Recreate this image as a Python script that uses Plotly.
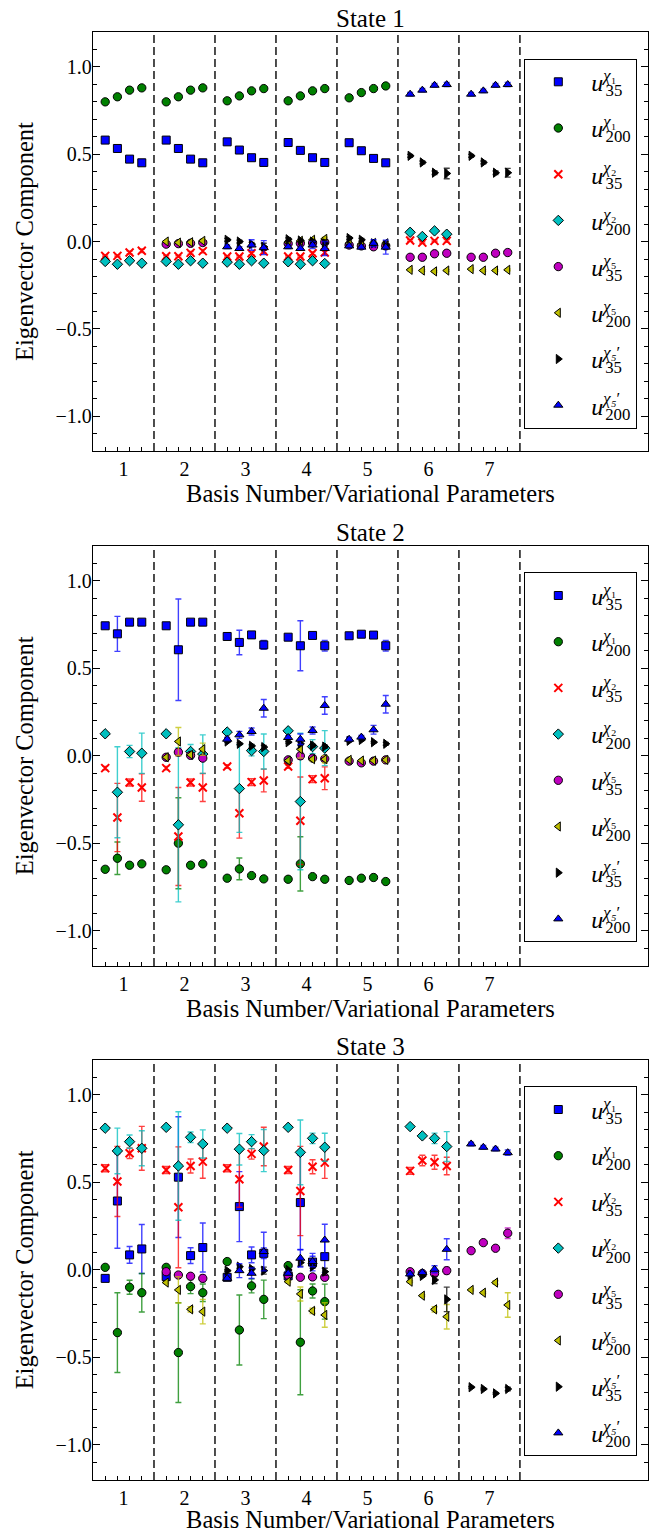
import plotly.graph_objects as go

# ---------------- data ----------------
BASES = [1, 2, 3, 4, 5, 6, 7]
BASIS_TICK_LABELS = ["1", "2", "3", "4", "5", "6", "7"]
N_PARAMS = 4
STATE_TITLES = ["State 1", "State 2", "State 3"]
LABEL_SUPS = ["χ₁", "χ₁", "χ₂", "χ₂", "χ₅", "χ₅", "χ₅′", "χ₅′"]
LABEL_SUBS = ["35", "200", "35", "200", "35", "200", "35", "200"]

# ---- State 1 ----
S1_U35_CHI1 = [[0.581, 0.533, 0.472, 0.451], [0.581, 0.533, 0.472, 0.451], [0.571, 0.524, 0.480, 0.453],
               [0.567, 0.522, 0.480, 0.453], [0.566, 0.520, 0.476, 0.451], None, None]
S1_U35_CHI1_ERR = [[0.008, 0.008, 0.008, 0.010], [0.008, 0.008, 0.008, 0.010], [0.008, 0.008, 0.008, 0.010],
                   [0.008, 0.008, 0.008, 0.010], [0.008, 0.008, 0.008, 0.010], None, None]
S1_U200_CHI1 = [[0.800, 0.829, 0.867, 0.880], [0.800, 0.829, 0.867, 0.880], [0.806, 0.834, 0.863, 0.876],
                [0.806, 0.834, 0.863, 0.876], [0.823, 0.853, 0.876, 0.891], None, None]
S1_U200_CHI1_ERR = [[0.005, 0.005, 0.005, 0.005], [0.005, 0.005, 0.005, 0.005], [0.005, 0.005, 0.005, 0.005],
                    [0.005, 0.005, 0.005, 0.005], [0.005, 0.005, 0.005, 0.005], None, None]
S1_U35_CHI2 = [[-0.082, -0.082, -0.063, -0.053], [-0.084, -0.084, -0.065, -0.055], [-0.086, -0.086, -0.067, -0.057],
               [-0.086, -0.086, -0.067, -0.063], None, [0.006, -0.006, 0.004, 0.004], None]
S1_U35_CHI2_ERR = [[0.005, 0.005, 0.008, 0.010], [0.005, 0.005, 0.008, 0.010], [0.005, 0.005, 0.008, 0.010],
                   [0.005, 0.005, 0.008, 0.012], None, [0.005, 0.005, 0.005, 0.008], None]
S1_U200_CHI2 = [[-0.114, -0.130, -0.110, -0.124], [-0.114, -0.130, -0.110, -0.124], [-0.118, -0.130, -0.110, -0.124],
                [-0.116, -0.130, -0.110, -0.126], None, [0.053, 0.029, 0.061, 0.042], None]
S1_U200_CHI2_ERR = [[0.005, 0.005, 0.005, 0.005], [0.005, 0.005, 0.005, 0.005], [0.005, 0.005, 0.005, 0.005],
                    [0.005, 0.005, 0.005, 0.005], None, [0.005, 0.005, 0.005, 0.005], None]
S1_U35_CHI5 = [None, [-0.015, -0.012, -0.010, -0.006], None, [-0.012, -0.010, -0.008, -0.004],
               [-0.020, -0.025, -0.030, -0.025], [-0.090, -0.090, -0.070, -0.067], [-0.090, -0.090, -0.067, -0.063]]
S1_U35_CHI5_ERR = [None, [0.005, 0.005, 0.005, 0.005], None, [0.005, 0.005, 0.005, 0.005],
                   [0.005, 0.005, 0.008, 0.010], [0.005, 0.005, 0.005, 0.005], [0.005, 0.005, 0.005, 0.005]]
S1_U200_CHI5 = [None, [0.000, -0.006, -0.004, 0.004], None, [-0.004, 0.004, 0.010, 0.015],
                [-0.010, -0.015, -0.008, -0.010], [-0.162, -0.166, -0.171, -0.166], [-0.158, -0.166, -0.166, -0.162]]
S1_U200_CHI5_ERR = [None, [0.005, 0.005, 0.005, 0.008], None, [0.005, 0.005, 0.008, 0.010],
                    [0.005, 0.005, 0.008, 0.010], [0.005, 0.005, 0.005, 0.005], [0.005, 0.005, 0.005, 0.005]]
S1_U35_CHI5P = [None, None, [0.010, 0.000, -0.015, -0.030], [0.013, 0.006, 0.000, -0.010],
                [0.020, 0.010, -0.010, -0.020], [0.491, 0.453, 0.394, 0.390], [0.491, 0.453, 0.394, 0.394]]
S1_U35_CHI5P_ERR = [None, None, [0.008, 0.008, 0.010, 0.020], [0.008, 0.008, 0.010, 0.020],
                    [0.008, 0.008, 0.010, 0.020], [0.008, 0.008, 0.010, 0.030], [0.008, 0.008, 0.010, 0.025]]
S1_U200_CHI5P = [None, None, [-0.030, -0.040, -0.020, -0.035], [-0.030, -0.040, -0.020, -0.040],
                 [-0.025, -0.032, -0.010, -0.032], [0.844, 0.867, 0.895, 0.899], [0.844, 0.863, 0.895, 0.899]]
S1_U200_CHI5P_ERR = [None, None, [0.010, 0.010, 0.030, 0.040], [0.010, 0.010, 0.020, 0.040],
                     [0.010, 0.010, 0.020, 0.040], [0.010, 0.010, 0.010, 0.012], [0.010, 0.010, 0.010, 0.012]]

# ---- State 2 ----
S2_U35_CHI1 = [[0.743, 0.697, 0.764, 0.764], [0.743, 0.606, 0.764, 0.764], [0.682, 0.648, 0.691, 0.634],
               [0.678, 0.629, 0.688, 0.629], [0.686, 0.695, 0.690, 0.629], None, None]
S2_U35_CHI1_ERR = [[0.010, 0.100, 0.010, 0.010], [0.010, 0.290, 0.010, 0.010], [0.010, 0.070, 0.010, 0.025],
                   [0.010, 0.143, 0.010, 0.030], [0.010, 0.010, 0.010, 0.030], None, None]
S2_U200_CHI1 = [[-0.648, -0.585, -0.625, -0.617], [-0.651, -0.499, -0.625, -0.617], [-0.699, -0.646, -0.684, -0.703],
                [-0.705, -0.617, -0.690, -0.705], [-0.712, -0.699, -0.695, -0.718], None, None]
S2_U200_CHI1_ERR = [[0.005, 0.093, 0.005, 0.005], [0.005, 0.260, 0.010, 0.010], [0.005, 0.062, 0.005, 0.005],
                    [0.005, 0.155, 0.005, 0.005], [0.005, 0.005, 0.005, 0.005], None, None]
S2_U35_CHI2 = [[-0.070, -0.352, -0.152, -0.181], [-0.070, -0.461, -0.152, -0.181], [-0.061, -0.328, -0.150, -0.141],
               [-0.061, -0.371, -0.133, -0.128], None, None, None]
S2_U35_CHI2_ERR = [[0.010, 0.195, 0.020, 0.078], [0.010, 0.280, 0.020, 0.080], [0.010, 0.142, 0.020, 0.065],
                   [0.010, 0.250, 0.020, 0.065], None, None, None]
S2_U200_CHI2 = [[0.126, -0.208, 0.025, 0.015], [0.126, -0.394, 0.025, 0.010], [0.136, -0.187, 0.030, 0.025],
                [0.143, -0.261, 0.053, 0.044], None, None, None]
S2_U200_CHI2_ERR = [[0.005, 0.260, 0.035, 0.115], [0.005, 0.440, 0.040, 0.110], [0.005, 0.250, 0.030, 0.100],
                    [0.005, 0.390, 0.040, 0.100], None, None, None]
S2_U35_CHI5 = [None, [-0.008, 0.021, 0.003, -0.013], None, [-0.023, 0.000, -0.013, -0.017],
               [-0.030, -0.040, -0.030, -0.023], None, None]
S2_U35_CHI5_ERR = [None, [0.005, 0.020, 0.010, 0.010], None, [0.005, 0.020, 0.010, 0.010],
                   [0.005, 0.005, 0.005, 0.008], None, None]
S2_U200_CHI5 = [None, [-0.008, 0.082, 0.006, 0.038], None, [-0.027, 0.038, -0.019, -0.019],
                [-0.023, -0.027, -0.027, -0.023], None, None]
S2_U200_CHI5_ERR = [None, [0.005, 0.080, 0.005, 0.035], None, [0.005, 0.050, 0.010, 0.020],
                    [0.005, 0.005, 0.005, 0.012], None, None]
S2_U35_CHI5P = [None, None, [0.082, 0.069, 0.057, 0.050], [0.078, 0.069, 0.059, 0.053],
                [0.086, 0.091, 0.078, 0.069], None, None]
S2_U35_CHI5P_ERR = [None, None, [0.005, 0.005, 0.008, 0.010], [0.005, 0.008, 0.008, 0.010],
                    [0.005, 0.005, 0.005, 0.008], None, None]
S2_U200_CHI5P = [None, None, [0.095, 0.120, 0.139, 0.272], [0.105, 0.095, 0.145, 0.288],
                 [0.095, 0.107, 0.149, 0.295], None, None]
S2_U200_CHI5P_ERR = [None, None, [0.010, 0.020, 0.020, 0.050], [0.010, 0.030, 0.020, 0.050],
                     [0.010, 0.010, 0.025, 0.050], None, None]

# ---- State 3 ----
S3_U35_CHI1 = [[-0.048, 0.394, 0.086, 0.120], [-0.038, 0.530, 0.082, 0.128], [-0.042, 0.362, 0.086, 0.095],
               [-0.034, 0.385, 0.045, 0.076], None, None, None]
S3_U35_CHI1_ERR = [[0.010, 0.270, 0.048, 0.140], [0.010, 0.345, 0.045, 0.140], [0.010, 0.200, 0.045, 0.030],
                   [0.010, 0.270, 0.050, 0.090], None, None, None]
S3_U200_CHI1 = [[0.015, -0.358, -0.099, -0.130], [0.015, -0.472, -0.095, -0.130], [0.048, -0.343, -0.091, -0.168],
                [0.025, -0.413, -0.120, -0.181], None, None, None]
S3_U200_CHI1_ERR = [[0.005, 0.228, 0.040, 0.110], [0.005, 0.285, 0.040, 0.050], [0.005, 0.200, 0.040, 0.110],
                    [0.005, 0.300, 0.040, 0.100], None, None, None]
S3_U35_CHI2 = [[0.581, 0.505, 0.667, 0.695], [0.571, 0.358, 0.594, 0.619], [0.581, 0.518, 0.663, 0.705],
               [0.571, 0.451, 0.590, 0.613], None, [0.566, 0.625, 0.615, 0.594], None]
S3_U35_CHI2_ERR = [[0.020, 0.200, 0.030, 0.125], [0.020, 0.345, 0.040, 0.095], [0.020, 0.160, 0.030, 0.110],
                   [0.020, 0.255, 0.040, 0.090], None, [0.020, 0.030, 0.040, 0.050], None]
S3_U200_CHI2 = [[0.810, 0.680, 0.733, 0.695], [0.815, 0.594, 0.758, 0.720], [0.810, 0.690, 0.733, 0.682],
                [0.815, 0.672, 0.752, 0.701], None, [0.819, 0.766, 0.752, 0.705], None]
S3_U200_CHI2_ERR = [[0.005, 0.130, 0.038, 0.100], [0.005, 0.310, 0.030, 0.080], [0.005, 0.090, 0.040, 0.120],
                    [0.005, 0.185, 0.030, 0.080], None, [0.005, 0.010, 0.030, 0.085], None]
S3_U35_CHI5 = [None, [-0.010, -0.029, -0.036, -0.048], None, [-0.030, -0.042, -0.040, -0.042],
               None, [-0.010, -0.020, -0.020, -0.004], [0.110, 0.156, 0.124, 0.210]]
S3_U35_CHI5_ERR = [None, [0.005, 0.008, 0.008, 0.020], None, [0.005, 0.008, 0.008, 0.015],
                   None, [0.005, 0.008, 0.008, 0.020], [0.005, 0.005, 0.005, 0.030]]
S3_U200_CHI5 = [None, [-0.072, -0.114, -0.225, -0.238], None, [-0.067, -0.137, -0.234, -0.257],
                None, [-0.067, -0.147, -0.225, -0.267], [-0.114, -0.130, -0.072, -0.200]]
S3_U200_CHI5_ERR = [None, [0.005, 0.075, 0.015, 0.070], None, [0.005, 0.040, 0.015, 0.070],
                    None, [0.005, 0.005, 0.015, 0.070], [0.005, 0.005, 0.010, 0.070]]
S3_U35_CHI5P = [None, None, [-0.004, 0.019, 0.006, -0.004], [0.000, 0.042, 0.019, -0.010],
                None, [-0.029, -0.034, -0.057, -0.168], [-0.670, -0.680, -0.705, -0.680]]
S3_U35_CHI5P_ERR = [None, None, [0.005, 0.010, 0.010, 0.020], [0.005, 0.020, 0.010, 0.020],
                    None, [0.005, 0.005, 0.020, 0.070], [0.005, 0.005, 0.005, 0.010]]
S3_U200_CHI5P = [None, None, [-0.048, -0.004, -0.019, 0.105], [-0.019, 0.067, 0.048, 0.171],
                 None, [-0.023, -0.015, 0.004, 0.118], [0.720, 0.701, 0.691, 0.670]]
S3_U200_CHI5P_ERR = [None, None, [0.010, 0.040, 0.030, 0.110], [0.010, 0.050, 0.030, 0.090],
                     None, [0.010, 0.010, 0.020, 0.060], [0.010, 0.010, 0.010, 0.015]]

STATE1 = [(S1_U35_CHI1, S1_U35_CHI1_ERR), (S1_U200_CHI1, S1_U200_CHI1_ERR), (S1_U35_CHI2, S1_U35_CHI2_ERR),
          (S1_U200_CHI2, S1_U200_CHI2_ERR), (S1_U35_CHI5, S1_U35_CHI5_ERR), (S1_U200_CHI5, S1_U200_CHI5_ERR),
          (S1_U35_CHI5P, S1_U35_CHI5P_ERR), (S1_U200_CHI5P, S1_U200_CHI5P_ERR)]
STATE2 = [(S2_U35_CHI1, S2_U35_CHI1_ERR), (S2_U200_CHI1, S2_U200_CHI1_ERR), (S2_U35_CHI2, S2_U35_CHI2_ERR),
          (S2_U200_CHI2, S2_U200_CHI2_ERR), (S2_U35_CHI5, S2_U35_CHI5_ERR), (S2_U200_CHI5, S2_U200_CHI5_ERR),
          (S2_U35_CHI5P, S2_U35_CHI5P_ERR), (S2_U200_CHI5P, S2_U200_CHI5P_ERR)]
STATE3 = [(S3_U35_CHI1, S3_U35_CHI1_ERR), (S3_U200_CHI1, S3_U200_CHI1_ERR), (S3_U35_CHI2, S3_U35_CHI2_ERR),
          (S3_U200_CHI2, S3_U200_CHI2_ERR), (S3_U35_CHI5, S3_U35_CHI5_ERR), (S3_U200_CHI5, S3_U200_CHI5_ERR),
          (S3_U35_CHI5P, S3_U35_CHI5P_ERR), (S3_U200_CHI5P, S3_U200_CHI5P_ERR)]
STATES = [STATE1, STATE2, STATE3]

# ---------------- styling / layout ----------------
FONT = "Liberation Serif"
PAGE_OFFSET = 8            # default HTML body margin
W, H = 649, 1525           # figure size (page offset included -> fills the 657x1533 window)
# target positions measured in window pixels
AX_LEFT_WIN, AX_RIGHT_WIN = 92.7, 648.3
PANEL_WIN = [(32.3, 451.3), (546.0, 966.0), (1060.0, 1480.0)]
LEGEND_TOP_OFFSET = 26.4
LEGEND_LEFT_WIN = 524.3
PARAM_STEP = 0.2
XRANGE = [0.5, 9.6]
YRANGE = [-1.2, 1.2]

STYLES = [
    dict(symbol="square", color="#0000ff", err="rgba(0,0,255,0.75)", size=8),
    dict(symbol="circle", color="#008000", err="rgba(0,128,0,0.75)", size=8.3),
    dict(symbol="x-thin", color="#ff0000", err="rgba(255,0,0,0.75)", size=8),
    dict(symbol="diamond", color="#00bfbf", err="rgba(0,191,191,0.75)", size=8),
    dict(symbol="circle", color="#bf00bf", err="rgba(191,0,191,0.75)", size=8.3),
    dict(symbol="triangle-left", color="#bfbf00", err="rgba(191,191,0,0.75)", size=8),
    dict(symbol="triangle-right", color="#000000", err="rgba(0,0,0,0.75)", size=8),
    dict(symbol="triangle-up", color="#0000ff", err="rgba(0,0,255,0.75)", size=8),
]
SUP_BACKSHIFT = [-11, -11, -11, -11, -11, -11, -15, -15]

PANEL_PX = [(t - PAGE_OFFSET, b - PAGE_OFFSET) for t, b in PANEL_WIN]
ax_left = AX_LEFT_WIN - PAGE_OFFSET
ax_right = AX_RIGHT_WIN - PAGE_OFFSET
top_m = PANEL_PX[0][0]
bot_m = H - PANEL_PX[2][1]
plot_h = PANEL_PX[2][1] - PANEL_PX[0][0]


def ydomain(top_px, bot_px):
    return [max(0.0, (PANEL_PX[2][1] - bot_px) / plot_h), min(1.0, (PANEL_PX[2][1] - top_px) / plot_h)]


def legend_name(i):
    sup = LABEL_SUPS[i]
    return ("<i>u</i><sup><i>" + sup[:-1] + "</i>"
            "<span style='letter-spacing:%dpx'>%s</span></sup><sub>%s</sub>" % (SUP_BACKSHIFT[i], sup[-1], LABEL_SUBS[i]))


def flatten(vals, errs):
    xs, ys, es = [], [], []
    for b, grp, egrp in zip(BASES, vals, errs):
        if grp is None:
            continue
        for j, (v, e) in enumerate(zip(grp, egrp)):
            xs.append(b + (j - (N_PARAMS - 1) / 2) * PARAM_STEP)
            ys.append(v)
            es.append(e)
    return xs, ys, es


fig = go.Figure()
minor_x = []
for b in BASES:
    for j in range(N_PARAMS):
        minor_x.append(b + (j - (N_PARAMS - 1) / 2) * PARAM_STEP)

for s, state in enumerate(STATES):
    xa = "x" if s == 0 else "x%d" % (s + 1)
    ya = "y" if s == 0 else "y%d" % (s + 1)
    lg = "legend" if s == 0 else "legend%d" % (s + 1)
    for i, (vals, errs) in enumerate(state):
        st = STYLES[i]
        xs, ys, es = flatten(vals, errs)
        if st["symbol"] == "x-thin":
            marker = dict(symbol="x-thin", size=st["size"], line=dict(color=st["color"], width=2), color=st["color"])
        else:
            marker = dict(symbol=st["symbol"], size=st["size"], color=st["color"], line=dict(color="black", width=1))
        fig.add_trace(go.Scatter(
            x=xs, y=ys, mode="markers", marker=marker, name=legend_name(i),
            error_y=dict(type="data", array=es, visible=True, color=st["err"], thickness=1.4, width=3),
            xaxis=xa, yaxis=ya, legend=lg, legendgroup="s%d_%d" % (s, i), showlegend=True,
        ))

layout = dict(
    width=W, height=H,
    margin=dict(l=ax_left, r=W - ax_right, t=top_m, b=bot_m, pad=0, autoexpand=False),
    paper_bgcolor="white", plot_bgcolor="white",
    font=dict(family=FONT, color="black", size=20),
    showlegend=True,
)

shapes = []
annotations = []
for s in range(3):
    sfx = "" if s == 0 else str(s + 1)
    top_px, bot_px = PANEL_PX[s]
    layout["xaxis" + sfx] = dict(
        domain=[0, 1], range=XRANGE, anchor="y" + sfx, automargin=False,
        tickmode="array", tickvals=BASES, ticktext=BASIS_TICK_LABELS,
        ticks="", ticklen=0, showline=True, linecolor="black", linewidth=1.3, mirror=True,
        showgrid=False, zeroline=False, tickfont=dict(size=20, family=FONT),
        minor=dict(ticks="inside", ticklen=4, tickwidth=1, tickcolor="black", tickmode="array", tickvals=minor_x),
        title=dict(text="Basis Number/Variational Parameters", font=dict(size=24.5, family=FONT), standoff=0),
    )
    layout["yaxis" + sfx] = dict(
        domain=ydomain(top_px, bot_px), range=YRANGE, anchor="x" + sfx, automargin=False,
        tickmode="linear", tick0=0, dtick=0.5, tickformat=".1f",
        ticks="inside", ticklen=7, tickwidth=1, tickcolor="black", ticklabelstandoff=-4,
        showline=True, linecolor="black", linewidth=1.3, mirror="ticks",
        showgrid=False, zeroline=False, tickfont=dict(size=20, family=FONT),
        minor=dict(ticks="inside", ticklen=4, tickwidth=1, tickcolor="black", tick0=0, dtick=0.1),
        title=dict(text="Eigenvector Component", font=dict(size=24.5, family=FONT), standoff=14),
    )
    lg = "legend" if s == 0 else "legend%d" % (s + 1)
    layout[lg] = dict(
        xref="container", yref="container",
        x=(LEGEND_LEFT_WIN - PAGE_OFFSET) / W, y=1 - (top_px + LEGEND_TOP_OFFSET) / H,
        xanchor="left", yanchor="top",
        bgcolor="white", bordercolor="black", borderwidth=1,
        font=dict(family=FONT, size=24, color="black"),
        itemwidth=56, tracegroupgap=12, traceorder="grouped",
    )
    for b in BASES:
        shapes.append(dict(type="line", xref="x" + sfx, yref="y" + sfx + " domain",
                           x0=b + 0.5, x1=b + 0.5, y0=0, y1=1,
                           line=dict(color="#222222", width=1.6, dash="8px,4px")))
    annotations.append(dict(text=STATE_TITLES[s], xref="x" + sfx + " domain", yref="y" + sfx + " domain",
                            x=0.5, y=1, xanchor="center", yanchor="bottom", yshift=-1, borderpad=0,
                            showarrow=False, font=dict(family=FONT, size=25, color="black")))

layout["shapes"] = shapes
layout["annotations"] = annotations
fig.update_layout(**layout)
fig.write_html("out.html")
